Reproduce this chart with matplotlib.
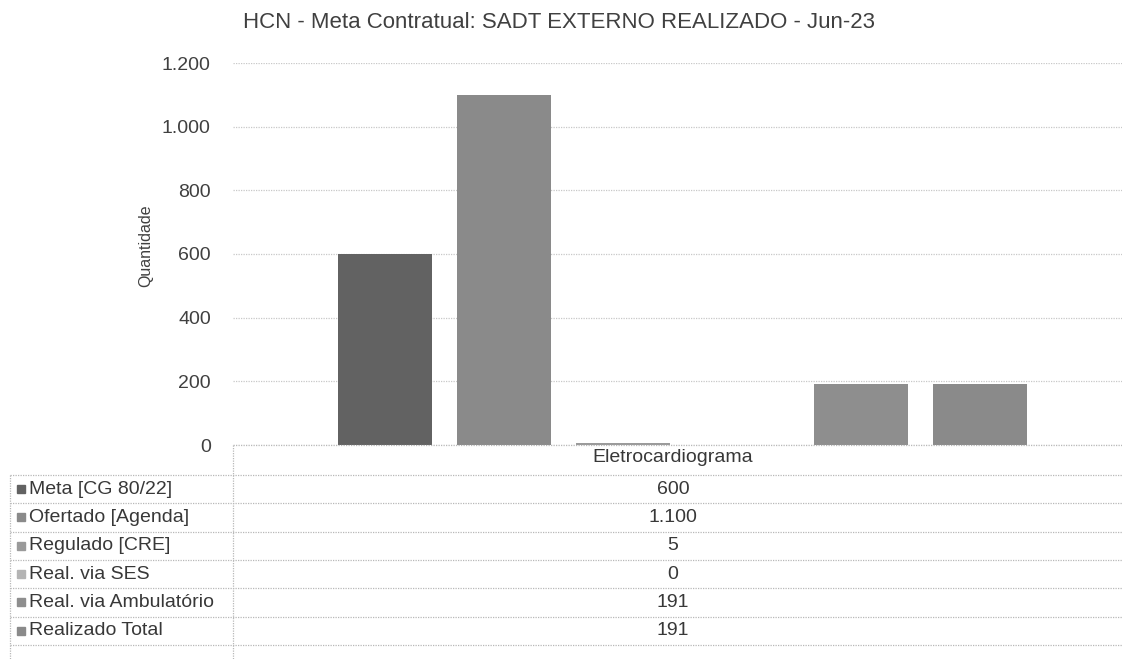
import matplotlib
matplotlib.use("Agg")
import matplotlib.pyplot as plt
from matplotlib.lines import Line2D

plt.rcParams['font.family'] = ['Liberation Sans', 'DejaVu Sans']

title = "HCN - Meta Contratual: SADT EXTERNO REALIZADO - Jun-23"
category = "Eletrocardiograma"
series = ["Meta [CG 80/22]", "Ofertado [Agenda]", "Regulado [CRE]",
          "Real. via SES", "Real. via Ambulatório", "Realizado Total"]
values = [600, 1100, 5, 0, 191, 191]
colors = ["#626262", "#8a8a8a", "#9a9a9a", "#b4b4b4", "#8e8e8e", "#8a8a8a"]
yticks = [0, 200, 400, 600, 800, 1000, 1200]

W, H = 1122, 659
fig = plt.figure(figsize=(W / 100, H / 100), dpi=100)

def fx(px):
    return px / W

def fy(py):
    return 1 - py / H

# axes in pixel geometry
ax_left, ax_right, ax_top, ax_bottom = 233, 1122, 63, 445
ax = fig.add_axes([fx(ax_left), fy(ax_bottom), fx(ax_right - ax_left),
                   (ax_bottom - ax_top) / H])

cat_w = 1132 - 233  # full category width in pixels (extends past the image)
step = 119.0 / cat_w
bw = 94.0 / cat_w
n = len(values)
for i, (v, c) in enumerate(zip(values, colors)):
    ax.bar((i - (n - 1) / 2) * step, v, width=bw, color=c, zorder=3)

ax.set_xlim(-0.5, -0.5 + (ax_right - ax_left) / cat_w)
ax.set_ylim(0, 1200)
ax.set_yticks(yticks)
ax.set_yticklabels([f"{t:,}".replace(",", ".") for t in yticks])
ax.tick_params(axis='y', length=0, pad=16, labelsize=14, labelcolor="#404040")
ax.set_xticks([])
for s in ax.spines.values():
    s.set_visible(False)
ax.grid(axis='y', linestyle=(0, (1, 1)), color="#c8c8c8", linewidth=0.9, zorder=0)

fig.text(fx(146), fy(246), "Quantidade", rotation=90, ha='center', va='center',
         fontsize=11.5, color="#404040")

fig.text(fx(559), fy(23), title, ha='center', va='center', fontsize=16, color="#404040")

# data table
tcol = "#b8b8b8"
lw = 0.9
dot = (0, (1, 1))
row0 = 475
rh = 28.3
fig.add_artist(Line2D([fx(233), fx(W)], [fy(445), fy(445)], color=tcol, lw=lw, ls=dot))
fig.add_artist(Line2D([fx(233), fx(233)], [fy(445), fy(H)], color=tcol, lw=lw, ls=dot))
fig.add_artist(Line2D([fx(10), fx(10)], [fy(row0), fy(H)], color=tcol, lw=lw, ls=dot))
for k in range(n + 1):
    y = row0 + k * rh
    fig.add_artist(Line2D([fx(10), fx(W)], [fy(y), fy(y)], color=tcol, lw=lw, ls=dot))

center_x = 673
fig.text(fx(center_x), fy(458), category, ha='center', va='center', fontsize=14, color="#383838")
for k, (name, v, c) in enumerate(zip(series, values, colors)):
    yc = row0 + (k + 0.5) * rh
    fig.add_artist(plt.Rectangle((fx(17), fy(yc + 4)), 8 / W, 8 / H, color=c,
                                 transform=fig.transFigure))
    fig.text(fx(29), fy(yc), name, ha='left', va='center', fontsize=14, color="#383838")
    fig.text(fx(center_x), fy(yc), f"{v:,}".replace(",", "."), ha='center',
             va='center', fontsize=14, color="#383838")

fig.savefig("out.png", dpi=100)
